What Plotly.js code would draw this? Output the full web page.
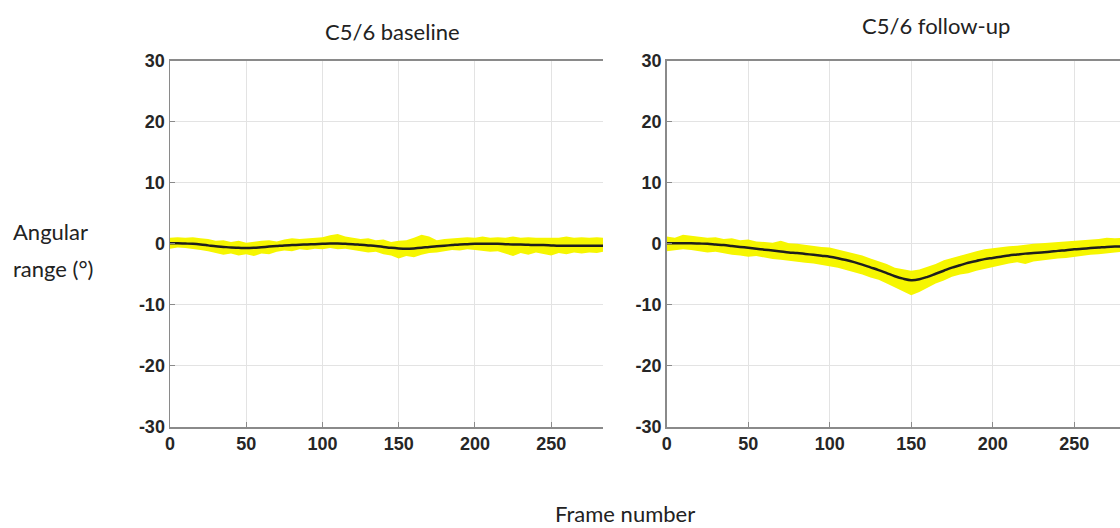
<!DOCTYPE html>
<html>
<head>
<meta charset="utf-8">
<script src="https://cdn.plot.ly/plotly-3.0.1.min.js"></script>
<style>html,body{margin:0;padding:0;background:#fff;}#chart{width:1120px;height:528px;}</style>
</head>
<body>
<div id="chart"></div>
<script>
// Frame numbers (x)
const framesBaseline = [0,5,10,15,20,25,30,35,40,45,50,55,60,65,70,75,80,85,90,95,100,105,110,115,120,125,130,135,140,145,150,155,160,165,170,175,180,185,190,195,200,205,210,215,220,225,230,235,240,245,250,255,260,265,270,275,280,284];
const framesFollowup = [0,5,10,15,20,25,30,35,40,45,50,55,60,65,70,75,80,85,90,95,100,105,110,115,120,125,130,135,140,145,150,155,160,165,170,175,180,185,190,195,200,205,210,215,220,225,230,235,240,245,250,255,260,265,270,275,280];

// Baseline: smoothed angle (black) and raw data envelope (yellow)
const baselineSmooth = [0.1,0.1,0.05,0,-0.1,-0.25,-0.4,-0.5,-0.6,-0.65,-0.7,-0.65,-0.55,-0.45,-0.35,-0.25,-0.2,-0.15,-0.1,-0.05,0,0.05,0.05,0,-0.05,-0.15,-0.25,-0.35,-0.5,-0.65,-0.75,-0.8,-0.75,-0.65,-0.5,-0.4,-0.3,-0.2,-0.1,-0.05,0,0,0,0,-0.05,-0.1,-0.1,-0.15,-0.2,-0.2,-0.25,-0.3,-0.3,-0.3,-0.3,-0.3,-0.3,-0.3];
const baselineUpper = [1.0,1.1,1.0,1.1,0.9,0.8,0.5,0.6,0.3,0.5,0.2,0.4,0.5,0.6,0.4,0.7,0.9,0.8,0.9,1.0,1.1,1.4,1.6,1.2,1.0,0.8,0.9,0.6,0.7,0.3,0.5,0.6,1.0,1.5,1.2,0.6,0.8,0.9,1.0,1.1,1.0,1.2,1.0,1.1,1.0,1.2,1.0,1.1,1.0,1.0,1.1,1.0,1.2,1.0,1.1,1.0,1.1,1.0];
const baselineLower = [-0.8,-0.6,-0.7,-0.8,-1.0,-1.2,-1.5,-1.8,-1.6,-1.9,-1.7,-2.0,-1.6,-1.7,-1.3,-1.1,-1.2,-0.9,-1.0,-0.8,-0.9,-0.7,-0.9,-0.8,-1.0,-1.2,-1.4,-1.3,-1.7,-1.9,-2.4,-2.0,-2.2,-1.8,-1.5,-1.4,-1.2,-1.0,-1.1,-0.9,-1.0,-1.1,-1.3,-1.2,-1.6,-2.0,-1.5,-1.8,-1.4,-1.6,-1.9,-1.5,-1.7,-1.4,-1.6,-1.4,-1.5,-1.3];

// Follow-up
const followSmooth = [0.1,0.1,0.1,0.1,0.05,0,-0.1,-0.2,-0.35,-0.5,-0.65,-0.8,-0.95,-1.1,-1.25,-1.4,-1.5,-1.65,-1.8,-1.95,-2.1,-2.35,-2.65,-3.0,-3.4,-3.85,-4.3,-4.8,-5.3,-5.7,-5.95,-5.8,-5.4,-4.9,-4.4,-3.9,-3.5,-3.1,-2.8,-2.5,-2.3,-2.1,-1.9,-1.75,-1.6,-1.5,-1.4,-1.3,-1.15,-1.05,-0.9,-0.8,-0.7,-0.6,-0.5,-0.45,-0.45];
const followUpper = [1.2,1.0,1.5,1.3,1.2,1.0,1.1,0.8,0.9,0.6,0.7,0.4,0.3,0.2,0.5,0.1,0.0,-0.2,-0.3,-0.5,-0.6,-0.9,-1.2,-1.5,-1.9,-2.4,-2.8,-3.3,-3.9,-4.2,-4.4,-4.2,-3.8,-3.3,-2.7,-2.3,-1.9,-1.5,-1.2,-0.9,-0.7,-0.6,-0.4,-0.3,-0.1,0.0,0.1,0.2,0.3,0.3,0.5,0.5,0.7,0.8,1.0,0.9,1.0];
const followLower = [-1.2,-1.1,-0.9,-1.0,-1.2,-1.4,-1.3,-1.6,-1.8,-1.9,-2.1,-2.0,-2.3,-2.5,-2.6,-2.8,-2.9,-3.1,-3.2,-3.4,-3.6,-3.9,-4.3,-4.6,-5.0,-5.5,-5.9,-6.5,-7.1,-7.8,-8.4,-7.9,-7.2,-6.5,-6.0,-5.4,-5.0,-4.8,-4.4,-4.1,-3.7,-3.5,-3.2,-3.0,-3.3,-2.9,-2.7,-2.6,-2.4,-2.3,-2.1,-2.0,-1.8,-1.7,-1.5,-1.4,-1.3];

const yTicks = [-30,-20,-10,0,10,20,30];
const xTicks = [0,50,100,150,200,250];
const panelTitles = ["C5/6 baseline", "C5/6 follow-up"];
const yTitleLines = ["Angular", "range (°)"];
const xTitle = "Frame number";

const YELLOW = "#f6f600";
const BLACK = "#1e1e1e";

function band(x, lo, hi, xa, ya) {
  return [
    {x: x, y: lo, xaxis: xa, yaxis: ya, mode: "lines", line: {width: 0, color: YELLOW}, hoverinfo: "skip", showlegend: false},
    {x: x, y: hi, xaxis: xa, yaxis: ya, mode: "lines", line: {width: 0, color: YELLOW}, fill: "tonexty", fillcolor: YELLOW, hoverinfo: "skip", showlegend: false}
  ];
}

const traces = [
  ...band(framesBaseline, baselineLower, baselineUpper, "x", "y"),
  {x: framesBaseline, y: baselineSmooth, xaxis: "x", yaxis: "y", mode: "lines", line: {color: BLACK, width: 2.5, shape: "spline"}, showlegend: false},
  ...band(framesFollowup, followLower, followUpper, "x2", "y2"),
  {x: framesFollowup, y: followSmooth, xaxis: "x2", yaxis: "y2", mode: "lines", line: {color: BLACK, width: 2.5, shape: "spline"}, showlegend: false}
];

const tickFont = {family: "Liberation Sans, Arial, sans-serif", size: 18, color: "#262626", weight: "bold"};
const W = 1120, H = 528;
const yDom = [1 - 427/H, 1 - 60.7/H];

function xAxis(dom, rng, anchor) {
  return {domain: dom, range: rng, anchor: anchor, tickvals: xTicks, ticktext: xTicks.map(String),
    showgrid: true, gridcolor: "#e3e3e3", gridwidth: 1, zeroline: false,
    showline: true, linecolor: "#8a8a8a", linewidth: 1.5, mirror: true,
    ticks: "inside", ticklen: 5, tickcolor: "#8a8a8a", tickfont: tickFont, fixedrange: true};
}
function yAxis(anchor) {
  return {domain: yDom, range: [-30, 30], anchor: anchor, tickvals: yTicks, ticktext: yTicks.map(String),
    showgrid: true, gridcolor: "#e3e3e3", gridwidth: 1, zeroline: false,
    showline: true, linecolor: "#8a8a8a", linewidth: 1.5,
    ticks: "inside", ticklen: 5, tickcolor: "#8a8a8a", tickfont: tickFont, fixedrange: true};
}

const annFont = {family: "Lato, Open Sans, sans-serif", size: 22, color: "#222"};
const layout = {
  width: W, height: H,
  margin: {l: 0, r: 0, t: 0, b: 0},
  paper_bgcolor: "#fff", plot_bgcolor: "#fff",
  showlegend: false,
  xaxis: xAxis([170/W, 603/W], [0, 284], "y"),
  yaxis: yAxis("x"),
  xaxis2: xAxis([666.7/W, 1], [0, 278.1], "y2"),
  yaxis2: yAxis("x2"),
  annotations: [
    {text: panelTitles[0], x: 392/W, y: 1 - 31/H, xref: "paper", yref: "paper", xanchor: "center", yanchor: "middle", showarrow: false, font: annFont},
    {text: panelTitles[1], x: 936/W, y: 1 - 26/H, xref: "paper", yref: "paper", xanchor: "center", yanchor: "middle", showarrow: false, font: annFont},
    {text: yTitleLines[0], x: 11/W, y: 1 - 231/H, xref: "paper", yref: "paper", xanchor: "left", yanchor: "middle", showarrow: false, font: annFont},
    {text: yTitleLines[1], x: 11/W, y: 1 - 268/H, xref: "paper", yref: "paper", xanchor: "left", yanchor: "middle", showarrow: false, font: annFont},
    {text: xTitle, x: 625/W, y: 1 - 513/H, xref: "paper", yref: "paper", xanchor: "center", yanchor: "middle", showarrow: false, font: annFont}
  ]
};

Plotly.newPlot("chart", traces, layout, {displayModeBar: false, staticPlot: true});
</script>
</body>
</html>
